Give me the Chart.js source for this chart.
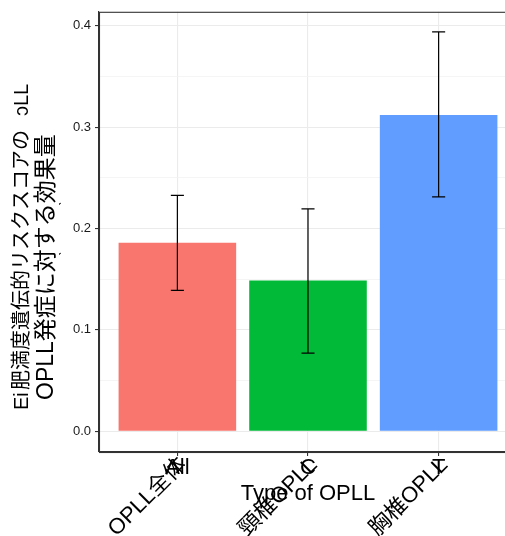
<!DOCTYPE html>
<html>
<head>
<meta charset="utf-8">
<script src="https://cdn.jsdelivr.net/npm/chart.js@4.4.1/dist/chart.umd.min.js"></script>
<style>
  html, body { margin: 0; padding: 0; background: #fff; overflow: hidden; }
  #wrap { width: 517px; height: 536px; }
</style>
</head>
<body>
<div id="wrap"><canvas id="chart" width="517" height="536"></canvas></div>
<script>
// values
var categories = ['OPLL全体', '頸椎OPLL', '胸椎OPLL'];
var shortCodes = ['All', 'C', 'T'];
var effect = [0.1858, 0.1487, 0.3120];
var lower = [0.1389, 0.0770, 0.2311];
var upper = [0.2326, 0.2194, 0.3938];
var barColors = ['#F8766D', '#00BA38', '#619CFF'];
var yTicks = [0, 0.05, 0.1, 0.15, 0.2, 0.25, 0.3, 0.35, 0.4];

var latin = "'Liberation Sans', Arial, 'Noto Sans CJK JP', sans-serif";
var cjk = "'Liberation Sans', 'Noto Sans CJK JP', sans-serif";

var isMajor = function (v) {
  return Math.abs(Math.round(v * 10) - v * 10) < 1e-6;
};

var errorBars = {
  id: 'errorBars',
  afterDatasetsDraw: function (chart) {
    var xs = chart.scales.x, ys = chart.scales.y, ctx = chart.ctx;
    ctx.save();
    ctx.strokeStyle = '#000';
    ctx.lineWidth = 1.2;
    for (var i = 0; i < effect.length; i++) {
      var x = xs.getPixelForValue(i + 1);
      var half = xs.getPixelForValue(i + 1.05) - x;
      var yt = ys.getPixelForValue(upper[i]);
      var yb = ys.getPixelForValue(lower[i]);
      ctx.beginPath();
      ctx.moveTo(x, yt); ctx.lineTo(x, yb);
      ctx.moveTo(x - half, yt); ctx.lineTo(x + half, yt);
      ctx.moveTo(x - half, yb); ctx.lineTo(x + half, yb);
      ctx.stroke();
    }
    ctx.restore();
  }
};

var decorations = {
  id: 'decorations',
  afterDraw: function (chart) {
    var a = chart.chartArea, ctx = chart.ctx, xs = chart.scales.x;
    ctx.save();
    // panel border
    ctx.strokeStyle = '#333';
    ctx.lineWidth = 1.1;
    ctx.strokeRect(a.left + 0.5, a.top + 0.5, a.right - a.left, a.bottom - a.top);

    ctx.fillStyle = '#000';
    // category codes (horizontal) overlapped by rotated names
    ctx.font = '22px ' + latin;
    ctx.textAlign = 'center';
    ctx.textBaseline = 'alphabetic';
    for (var i = 0; i < categories.length; i++) {
      var x = xs.getPixelForValue(i + 1);
      ctx.fillText(shortCodes[i], x, 474);
      ctx.save();
      ctx.translate(x - 2, 454);
      ctx.rotate(-Math.PI / 4);
      ctx.font = '22px ' + cjk;
      ctx.textAlign = 'right';
      ctx.textBaseline = 'top';
      ctx.fillText(categories[i], 0, 0);
      ctx.restore();
    }

    // x title
    ctx.font = '22px ' + latin;
    ctx.textAlign = 'center';
    ctx.fillText('Type of OPLL', (a.left + a.right) / 2, 500);

    // y title (two lines plus leftover fragments)
    ctx.save();
    ctx.rotate(-Math.PI / 2);
    ctx.textBaseline = 'middle';
    ctx.textAlign = 'left';
    ctx.font = '20px ' + cjk;
    ctx.fillText('Ei', -410, 22);
    ctx.fillText('肥満度遺伝的リスクスコアの', -390, 22);
    ctx.fillText('ɔLL', -116, 22);
    ctx.font = '23px ' + cjk;
    ctx.fillText('OPLL発症に対する効果量', -400, 47);
    ctx.font = '14px ' + cjk;
    ctx.fillText('ˋ', -206, 66);
    ctx.fillText('ˋ', -256, 66);
    ctx.restore();
    ctx.restore();
  }
};

var chart = new Chart(document.getElementById('chart').getContext('2d'), {
  type: 'bar',
  data: {
    datasets: [{
      data: effect.map(function (v, i) { return {x: i + 1, y: v}; }),
      backgroundColor: barColors,
      borderWidth: 0,
      barPercentage: 0.9,
      categoryPercentage: 1.0
    }]
  },
  options: {
    responsive: false,
    animation: false,
    layout: {padding: {top: 8, left: 0, right: 0, bottom: 0}},
    plugins: {legend: {display: false}, tooltip: {enabled: false}},
    scales: {
      x: {
        type: 'linear',
        min: 0.4,
        max: 3.6,
        offset: false,
        afterBuildTicks: function (scale) {
          scale.ticks = categories.map(function (c, i) { return {value: i + 1}; });
        },
        afterFit: function (scale) { scale.height = 84; },
        ticks: {display: false},
        grid: {offset: false, color: '#EBEBEB', lineWidth: 1.1, tickLength: 4, tickColor: '#333', drawTicks: true},
        border: {display: true, color: '#333', width: 1.1}
      },
      y: {
        type: 'linear',
        min: -0.0205,
        max: 0.4137,
        afterBuildTicks: function (scale) {
          scale.ticks = yTicks.map(function (v) { return {value: v}; });
        },
        afterFit: function (scale) { scale.width = 99; },
        ticks: {
          color: '#1a1a1a',
          font: {size: 13, family: latin},
          padding: 4,
          callback: function (v) { return isMajor(v) ? v.toFixed(1) : ''; }
        },
        grid: {
          tickLength: 4,
          color: function (c) { return c.tick && isMajor(c.tick.value) ? '#EBEBEB' : '#F2F2F2'; },
          lineWidth: function (c) { return c.tick && isMajor(c.tick.value) ? 1.1 : 0.8; },
          tickColor: function (c) { return c.tick && isMajor(c.tick.value) ? '#333' : 'rgba(0,0,0,0)'; }
        },
        border: {display: true, color: '#333', width: 1.1}
      }
    }
  },
  plugins: [errorBars, decorations]
});
</script>
</body>
</html>
